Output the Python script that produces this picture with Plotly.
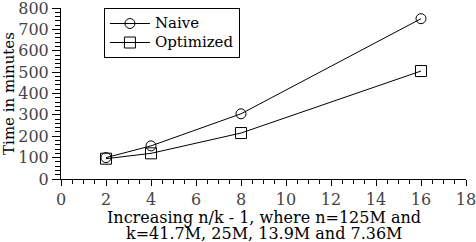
import plotly.graph_objects as go

x_vals = [2, 4, 8, 16]
naive = [100, 155, 305, 750]
optimized = [95, 120, 215, 505]
series_names = ["Naive", "Optimized"]
x_title_lines = ["Increasing n/k - 1, where n=125M and", "k=41.7M, 25M, 13.9M and 7.36M"]

font_family = "DejaVu Serif"

fig = go.Figure()
fig.add_trace(go.Scatter(
    x=x_vals, y=naive, name="<span style='font-size:15px'>%s</span>" % series_names[0],
    mode="lines+markers",
    line=dict(color="black", width=1),
    marker=dict(symbol="circle-open", size=10, color="black", line=dict(width=1)),
))
fig.add_trace(go.Scatter(
    x=x_vals, y=optimized, name="<span style='font-size:15px'>%s</span>" % series_names[1],
    mode="lines+markers",
    line=dict(color="black", width=1),
    marker=dict(symbol="square-open", size=11, color="black", line=dict(width=1)),
))

for i, line in enumerate(x_title_lines):
    fig.add_annotation(
        text=line, xref="paper", yref="paper", x=0.5, y=0,
        xanchor="center", yanchor="middle", yshift=-38 - 16 * i,
        showarrow=False,
        font=dict(family=font_family, size=16, color="black"),
    )

fig.update_layout(
    width=476, height=242,
    margin=dict(l=61, r=10, t=8, b=63),
    paper_bgcolor="white", plot_bgcolor="white",
    font=dict(family=font_family, size=15, color="#444"),
    showlegend=True,
    legend=dict(
        x=0.106, y=1.0, xanchor="left", yanchor="top",
        bordercolor="black", borderwidth=1, bgcolor="white",
        font=dict(family=font_family, size=12, color="black"),
        tracegroupgap=0, itemwidth=40,
    ),
    xaxis=dict(
        range=[0, 18], dtick=2, tick0=0, automargin=False,
        showgrid=False, zeroline=False,
        showline=True, linecolor="black", linewidth=1,
        ticks="outside", ticklen=6, tickcolor="black", tickwidth=1,
        minor=dict(dtick=0.5, ticks="outside", ticklen=4, tickcolor="black", showgrid=False),
        tickfont=dict(family=font_family, size=16, color="#444"),
        ticklabeloverflow="allow",
    ),
    yaxis=dict(
        range=[0, 800], dtick=100, tick0=0, automargin=False,
        showgrid=False, zeroline=False,
        showline=True, linecolor="black", linewidth=1,
        ticks="outside", ticklen=8, tickcolor="black", tickwidth=1,
        minor=dict(dtick=20, ticks="outside", ticklen=5, tickcolor="black", showgrid=False),
        tickfont=dict(family=font_family, size=16, color="#444"),
        ticklabeloverflow="allow",
        title=dict(
            text="Time in minutes",
            font=dict(family=font_family, size=15, color="black"),
            standoff=2,
        ),
    ),
)

fig.write_html("out.html", config={"displayModeBar": False},
               post_script="document.body.style.margin='0';")
